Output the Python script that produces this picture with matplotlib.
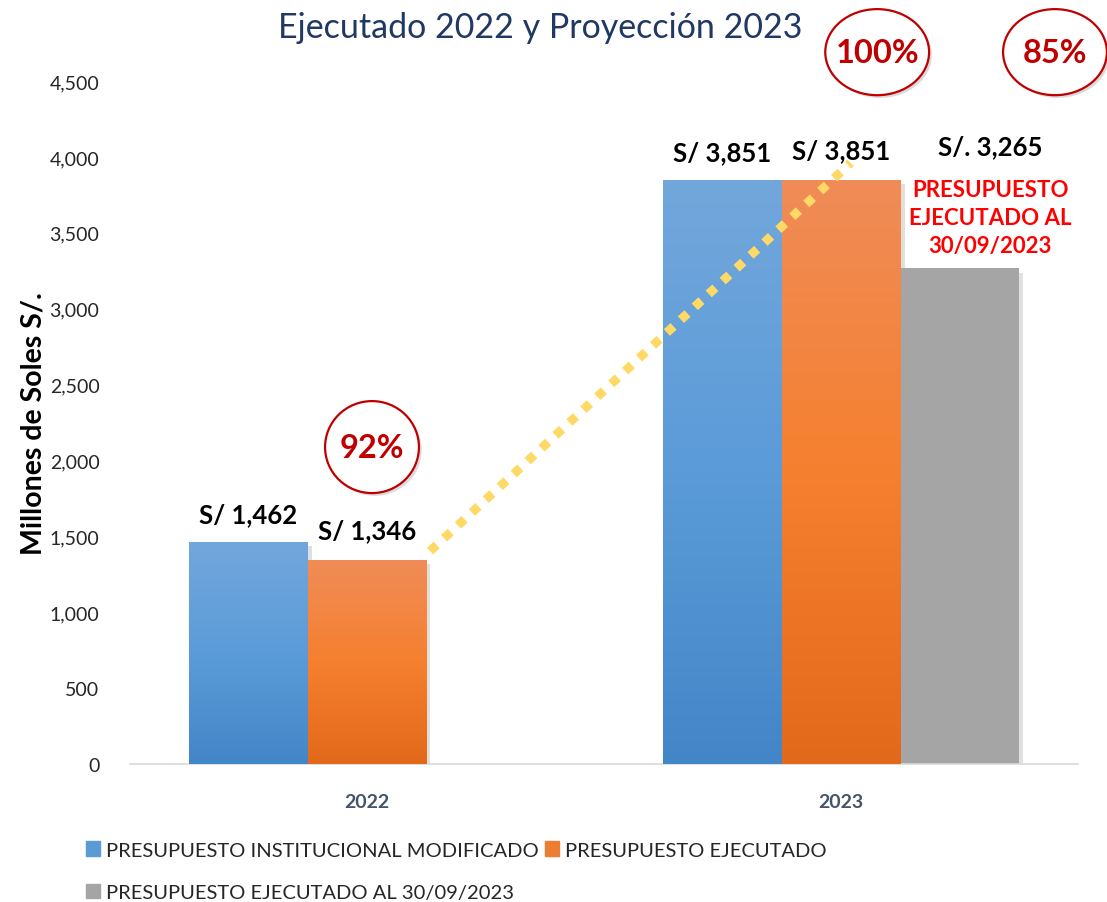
import matplotlib
matplotlib.use("Agg")
import matplotlib.pyplot as plt
import matplotlib.patheffects as pe
from matplotlib.patches import Ellipse, Patch
from matplotlib.colors import LinearSegmentedColormap
import numpy as np

plt.rcParams['font.family'] = ['Lato', 'DejaVu Sans']

years = ['2022', '2023']
modificado = [1462, 3851]
ejecutado = [1346, 3851]
ejecutado_sep = [None, 3265]
labels_mod = ['S/ 1,462', 'S/ 3,851']
labels_eje = ['S/ 1,346', 'S/ 3,851']
label_sep = 'S/. 3,265'
pct_labels = ['92%', '100%', '85%']
legend_names = ['PRESUPUESTO INSTITUCIONAL MODIFICADO', 'PRESUPUESTO EJECUTADO',
                'PRESUPUESTO EJECUTADO AL 30/09/2023']

blue_grad = ['#4386c7', '#5b9bd9', '#72a7db']
orange_grad = ['#e3691a', '#f5802f', '#f08c58']
gray = '#a5a5a5'

fig = plt.figure(figsize=(11.07, 9.03), dpi=100)
ax = fig.add_axes([0.1174, 0.1528, 0.8566, 0.7564])

x = np.arange(len(years))
w = 0.25
shadow = [pe.SimplePatchShadow(offset=(3, -3), alpha=0.15), pe.Normal()]


def grad_bar(xc, h, cols):
    b = ax.bar(xc, h, w, color=cols[1], zorder=2)[0]
    b.set_path_effects(shadow)
    cmap = LinearSegmentedColormap.from_list('g', cols)
    img = ax.imshow(np.linspace(0, 1, 256).reshape(-1, 1), cmap=cmap, aspect='auto',
                    origin='lower', extent=[xc - w / 2, xc + w / 2, 0, h], zorder=3)
    img.set_clip_path(b)
    return b


for i in range(len(years)):
    grad_bar(x[i] - w, modificado[i], blue_grad)
    grad_bar(x[i], ejecutado[i], orange_grad)
    if ejecutado_sep[i] is not None:
        b = ax.bar(x[i] + w, ejecutado_sep[i], w, color=gray, zorder=2)[0]
        b.set_path_effects(shadow)

ax.set_xlim(-0.5, 1.5)
ax.set_ylim(0, 4500)
ax.set_yticks(range(0, 4501, 500))
ax.set_yticklabels([f'{v:,}' for v in range(0, 4501, 500)], fontsize=14, color='#262626')
ax.set_xticks(x)
ax.set_xticklabels(years, fontsize=14, fontweight='bold', color='#44546a')
ax.tick_params(length=0)
ax.tick_params(axis='x', pad=21)
ax.tick_params(axis='y', pad=22)
for s in ['top', 'right', 'left']:
    ax.spines[s].set_visible(False)
ax.spines['bottom'].set_color('#d9d9d9')
ax.spines['bottom'].set_linewidth(1.2)
ax.set_ylabel('Millones de Soles S/.', fontsize=20.5, fontweight='bold', labelpad=2)

# trend line (dotted)
ax.plot([0.133, 1.02], [1403, 3960], color='#ffd966', lw=6.5, ls=(0, (1, 1.1)),
        zorder=5, clip_on=False, solid_capstyle='butt')

# value labels
for i in range(len(years)):
    ax.annotate(labels_mod[i], (x[i] - w, modificado[i]), xytext=(0, 20),
                textcoords='offset points', ha='center', va='center',
                fontsize=18.5, fontweight='bold', zorder=6)
    ax.annotate(labels_eje[i], (x[i], ejecutado[i]), xytext=(0, 21),
                textcoords='offset points', ha='center', va='center',
                fontsize=18.5, fontweight='bold', zorder=6)
ax.text(1.314, 4070, label_sep, ha='center', va='center', fontsize=18.5,
        fontweight='bold', zorder=6)
ax.text(1.314, 3600, 'PRESUPUESTO\nEJECUTADO AL\n30/09/2023', ha='center', va='center',
        fontsize=16, fontweight='bold', color='#ff0000', linespacing=1.4, zorder=6)

# percentage circles
circ_pos = [(0.0105, 2088, 0.198, 606), (1.076, 4690, 0.219, 567), (1.451, 4690, 0.219, 567)]
for (cx, cy, cw, chh), t in zip(circ_pos, pct_labels):
    e = Ellipse((cx, cy), cw, chh, facecolor='white', edgecolor='#c00000', lw=1.6,
                clip_on=False, zorder=6)
    e.set_path_effects([pe.SimplePatchShadow(offset=(2, -2), alpha=0.2), pe.Normal()])
    ax.add_patch(e)
    ax.text(cx, cy, t, ha='center', va='center', fontsize=23.5, fontweight='bold',
            color='#c00000', zorder=7, clip_on=False)

fig.text(0.488, 0.969, 'Ejecutado 2022 y Proyección 2023', ha='center', va='center',
         fontsize=24.5, color='#1f3864')

# legend
handles = [Patch(color='#5b9bd5'), Patch(color='#a5a5a5'), Patch(color='#ed7d31')]
names = [legend_names[0], legend_names[2], legend_names[1]]
fig.legend(handles, names, ncol=2, loc='upper left', bbox_to_anchor=(0.078, 0.067),
           frameon=False, fontsize=14.5, handlelength=0.7, handleheight=0.7,
           handletextpad=0.3, columnspacing=0.3, labelspacing=1.25,
           labelcolor='#262626', borderaxespad=0, borderpad=0)

fig.savefig('out.png', dpi=100)
